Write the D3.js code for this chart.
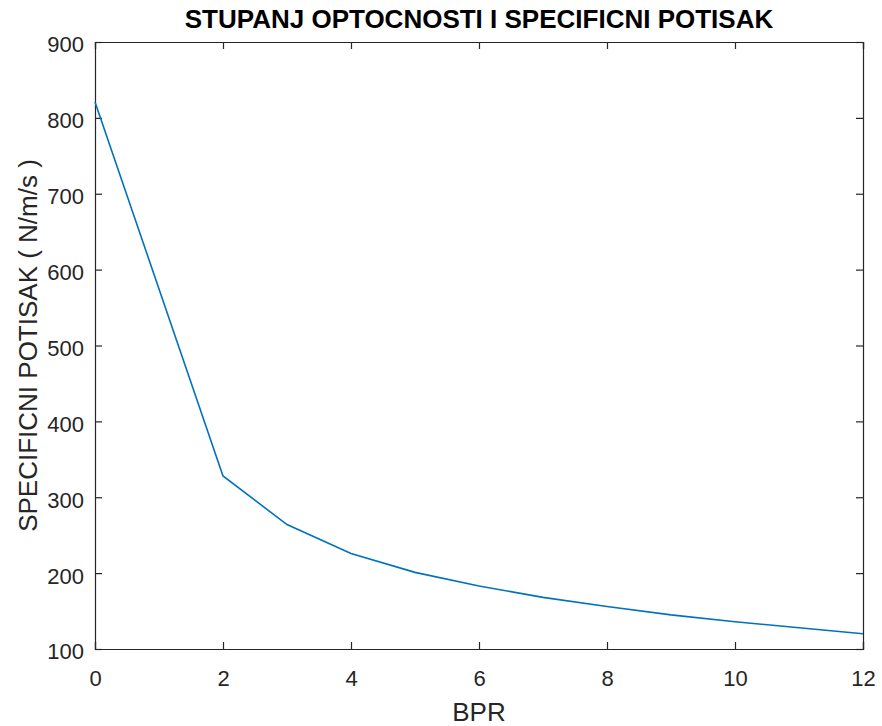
<!DOCTYPE html>
<html><head><meta charset="utf-8">
<script src="https://cdn.jsdelivr.net/npm/d3@7"></script>
<style>body{margin:0;background:#fff}svg{display:block}</style>
</head><body>
<script>
const bpr = [0, 2, 3, 4, 5, 6, 7, 8, 9, 10, 11, 12];
const thrust = [821, 328, 264, 226, 201, 183, 168, 156, 145, 136, 128, 120];
const xTicks = [0, 2, 4, 6, 8, 10, 12];
const yTicks = [100, 200, 300, 400, 500, 600, 700, 800, 900];
const title = "STUPANJ OPTOCNOSTI I SPECIFICNI POTISAK";
const xLabel = "BPR";
const yLabel = "SPECIFICNI POTISAK ( N/m/s )";

const W = 882, H = 726;
const m = {left: 95, right: 19, top: 42, bottom: 77};
const svg = d3.select("body").append("svg").attr("width", W).attr("height", H);
const x = d3.scaleLinear().domain([0, 12]).range([m.left, W - m.right]);
const y = d3.scaleLinear().domain([100, 900]).range([H - m.bottom, m.top]);
const col = "#262626";
const font = "'Liberation Sans', Arial, sans-serif";

function styleAxis(g, noLabels) {
  g.select(".domain").attr("stroke", col).attr("stroke-width", 1.2);
  g.selectAll(".tick line").attr("stroke", col).attr("stroke-width", 1.2);
  g.selectAll(".tick text").attr("fill", col).style("font-family", font).style("font-size", "22px");
  if (noLabels) g.selectAll(".tick text").remove();
}
const tl = -7;
svg.append("g").attr("transform", `translate(0,${y(100)})`)
  .call(d3.axisBottom(x).tickValues(xTicks).tickSize(tl).tickPadding(21).tickFormat(d3.format("d")))
  .call(g => styleAxis(g));
svg.append("g").attr("transform", `translate(0,${y(900)})`)
  .call(d3.axisTop(x).tickValues(xTicks).tickSize(tl).tickFormat(""))
  .call(g => styleAxis(g, true));
svg.append("g").attr("transform", `translate(${x(0)},0)`)
  .call(d3.axisLeft(y).tickValues(yTicks).tickSize(tl).tickPadding(11).tickFormat(d3.format("d")))
  .call(g => { styleAxis(g); g.selectAll(".tick text").attr("dy", "0.45em"); });
svg.append("g").attr("transform", `translate(${x(12)},0)`)
  .call(d3.axisRight(y).tickValues(yTicks).tickSize(tl).tickFormat(""))
  .call(g => styleAxis(g, true));

const data = bpr.map((b, i) => ({b, t: thrust[i]}));
svg.append("path").datum(data)
  .attr("fill", "none").attr("stroke", "#0072BD").attr("stroke-width", 1.6)
  .attr("d", d3.line().x(d => x(d.b)).y(d => y(d.t)));

svg.append("text").attr("x", (x(0) + x(12)) / 2).attr("y", 27.5)
  .attr("text-anchor", "middle").attr("fill", "#000")
  .style("font-family", font).style("font-weight", "bold").style("font-size", "26px")
  .text(title);
svg.append("text").attr("x", (x(0) + x(12)) / 2).attr("y", 721)
  .attr("text-anchor", "middle").attr("fill", col)
  .style("font-family", font).style("font-size", "26px").text(xLabel);
svg.append("text").attr("transform", `translate(37,${(y(100) + y(900)) / 2}) rotate(-90)`)
  .attr("text-anchor", "middle").attr("fill", col)
  .style("font-family", font).style("font-size", "26px").text(yLabel);
</script>
</body></html>
